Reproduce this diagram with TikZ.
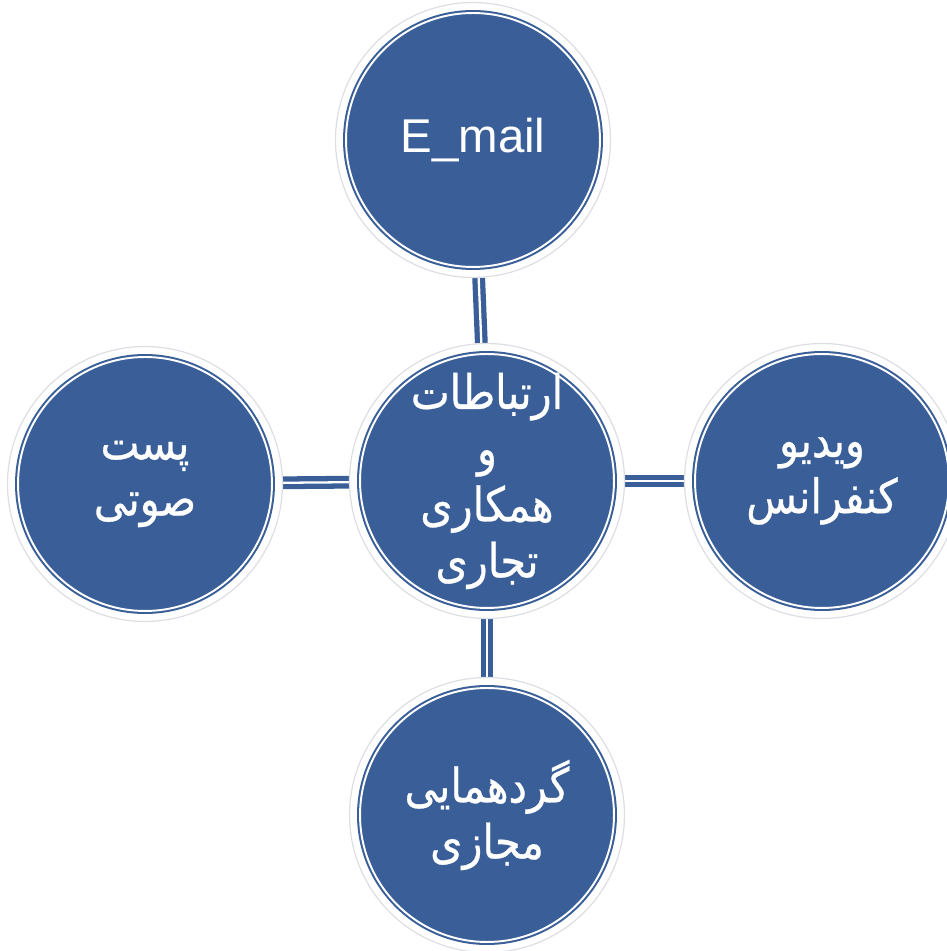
\documentclass[tikz,border=0pt]{standalone}
\usepackage{fontspec}
\setmainfont{Liberation Sans}
\newfontfamily\arabicfont[Script=Arabic, FakeStretch=0.87, FakeBold=0.6]{DejaVu Sans}
\TeXXeTstate=1
\usetikzlibrary{backgrounds}
\definecolor{circblue}{HTML}{3A5F98}
\definecolor{halogray}{HTML}{DCDFE4}
\newcommand{\pers}[1]{{\arabicfont\beginR #1\endR}}

\begin{document}
\begin{tikzpicture}[
    x=0.02cm, y=0.02cm,
    bubble/.style={circle, minimum size=5.5cm, inner sep=0pt, fill=white, draw=halogray, line width=0.7pt,
      text=white, align=center, font=\fontsize{27}{32}\selectfont,
      path picture={
        \fill[circblue] (path picture bounding box.center) circle (2.6cm);
        \draw[white, line width=1.1pt] (path picture bounding box.center) circle (2.54cm);
      }},
    link/.style={draw=circblue, line width=3pt, double=white, double distance=1.3pt}
  ]
  \useasboundingbox (0,0) rectangle (947,951);

  % hub
  \node[bubble] (hub) at (487, 470) {\pers{ارتباطات}\\ \pers{و}\\ \pers{همکاری}\\ \pers{تجاری}};

  % satellites
  \node[bubble] (email) at (473, 811) {E\_mail};
  \node[bubble] (voice) at (145, 467) {\pers{پست}\\ \pers{صوتی}};
  \node[bubble] (video) at (822, 470) {\pers{ویدیو}\\ \pers{کنفرانس}};
  \node[bubble] (meet) at (487, 136) {\pers{گردهمایی}\\ \pers{مجازی}};

  % connectors
  \begin{scope}[on background layer]
    \draw[link] (hub) -- (email);
    \draw[link] (hub) -- (voice);
    \draw[link] (hub) -- (video);
    \draw[link] (hub) -- (meet);
  \end{scope}
\end{tikzpicture}
\end{document}
